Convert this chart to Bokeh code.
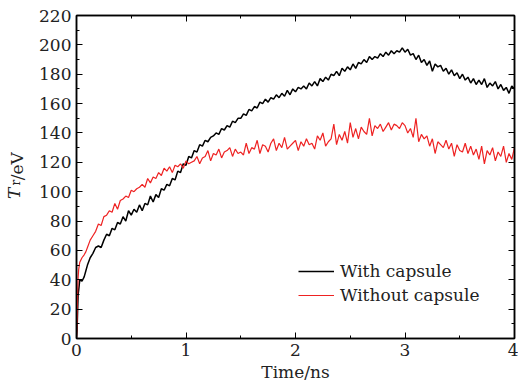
from bokeh.plotting import figure
from bokeh.models import (LinearAxis, SingleIntervalTicker, FixedTicker, Range1d,
                          CustomJSTickFormatter)
from bokeh.embed import file_html
from bokeh.resources import INLINE

# ---- data ----
t_early = [0.0, 0.005, 0.01, 0.015, 0.02, 0.03, 0.05, 0.07, 0.085]
with_early = [0, 5, 18, 30, 33, 40, 39, 42, 46]
without_early = [0, 12, 30, 42, 47, 52, 55, 57, 59]

# main part sampled every 0.025 ns from 0.1 to 4.0
with_main = [
    50, 55, 58, 62, 63, 62, 67, 71, 70, 75, 74, 79, 78, 83, 80, 87, 84, 88, 86, 91,
    87, 92, 91, 97, 93, 98, 96, 102, 101, 105, 104, 109, 108, 114, 113, 119, 118, 124, 123, 128,
    127, 132, 131, 135, 134, 137, 138, 140, 139, 143, 142, 145, 144, 148, 147, 150, 150, 153, 152, 156,
    155, 158, 157, 161, 160, 163, 161, 164, 163, 166, 164, 167, 165, 169, 166, 170, 168, 171, 170, 172,
    170, 174, 172, 175, 172, 177, 175, 178, 176, 180, 179, 182, 179, 184, 182, 185, 183, 187, 184, 188,
    187, 190, 188, 192, 190, 192, 191, 194, 192, 195, 193, 196, 194, 196, 195, 198, 195, 197, 193, 194,
    190, 193, 188, 190, 186, 189, 182, 187, 185, 186, 182, 184, 180, 183, 179, 181, 177, 180, 176, 178,
    174, 177, 173, 176, 173, 177, 171, 174, 172, 175, 170, 173, 169, 171, 167, 172, 170,
]
without_main = [
    62, 67, 70, 73, 78, 77, 83, 84, 87, 86, 92, 88, 94, 95, 97, 96, 101, 100, 102, 103,
    105, 103, 109, 106, 110, 109, 113, 111, 116, 114, 117, 113, 118, 117, 119, 116, 121, 119, 120, 121,
    124, 119, 123, 124, 128, 121, 126, 125, 129, 123, 127, 128, 130, 124, 129, 126, 127, 125, 133, 126,
    130, 129, 135, 126, 132, 131, 127, 133, 136, 128, 133, 130, 137, 129, 131, 133, 135, 128, 134, 131,
    136, 132, 133, 129, 138, 135, 140, 131, 134, 136, 146, 132, 139, 135, 141, 133, 147, 137, 143, 136,
    144, 141, 139, 150, 138, 145, 143, 146, 141, 144, 147, 142, 146, 145, 143, 147, 145, 140, 143, 137,
    150, 134, 139, 136, 138, 131, 136, 126, 134, 132, 130, 135, 129, 133, 124, 132, 128, 127, 133, 126,
    131, 125, 129, 122, 131, 119, 128, 125, 130, 121, 127, 124, 131, 120, 126, 122, 130,
]

t_main = [round(0.1 + 0.025 * i, 3) for i in range(len(with_main))]
t_all = t_early + t_main
with_capsule = with_early + with_main
without_capsule = without_early + without_main

x_ticks_interval = 1
y_ticks_interval = 20

FONT = "DejaVu Serif"
FS = "17px"
TXT = "#222222"
NB = "\u00a0"

p = figure(width=518, height=384, output_backend="svg", toolbar_location=None,
           x_range=Range1d(0, 4), y_range=Range1d(0, 220),
           x_axis_type=None, y_axis_type=None,
           min_border_left=76, min_border_right=4, min_border_top=15, min_border_bottom=46)
p.background_fill_color = "white"
p.border_fill_color = "white"
p.outline_line_color = "black"
p.outline_line_width = 1.5
p.xgrid.visible = False
p.ygrid.visible = False


def make_axis(ticker, labels=True, label_text=None, label_standoff=3):
    ax = LinearAxis(ticker=ticker)
    ax.axis_line_color = "black"
    ax.axis_line_width = 1.5
    ax.major_tick_in = 6
    ax.major_tick_out = 0
    ax.minor_tick_in = 3
    ax.minor_tick_out = 0
    ax.major_tick_line_color = "black"
    ax.minor_tick_line_color = "black"
    ax.major_tick_line_width = 1
    ax.minor_tick_line_width = 1
    if labels:
        ax.major_label_text_font = FONT
        ax.major_label_text_font_size = FS
        ax.major_label_text_color = TXT
        ax.major_label_standoff = 5
    else:
        ax.formatter = CustomJSTickFormatter(code="return ''")
        ax.major_label_standoff = 0
    if label_text:
        ax.axis_label = label_text
        ax.axis_label_text_font = FONT
        ax.axis_label_text_font_size = FS
        ax.axis_label_text_font_style = "normal"
        ax.axis_label_text_color = TXT
        ax.axis_label_standoff = label_standoff
    return ax


def label_axis(text, standoff, size=FS, style="normal"):
    # an axis with no ticks or line, used only to place one piece of the y-axis title
    ax = LinearAxis(ticker=FixedTicker(ticks=[], minor_ticks=[]),
                    formatter=CustomJSTickFormatter(code="return ''"))
    ax.axis_line_color = None
    ax.major_tick_line_color = None
    ax.minor_tick_line_color = None
    ax.major_tick_in = 0
    ax.major_tick_out = 0
    ax.minor_tick_in = 0
    ax.minor_tick_out = 0
    ax.major_label_standoff = 0
    ax.axis_label = text
    ax.axis_label_text_font = FONT
    ax.axis_label_text_font_size = size
    ax.axis_label_text_font_style = style
    ax.axis_label_text_color = TXT
    ax.axis_label_standoff = standoff
    return ax


xt = SingleIntervalTicker(interval=x_ticks_interval, num_minor_ticks=2)
yt = SingleIntervalTicker(interval=y_ticks_interval, num_minor_ticks=2)
p.add_layout(make_axis(xt, True, "Time/ns", 3), "below")
p.add_layout(make_axis(yt, True), "left")
p.add_layout(make_axis(xt, False), "above")
p.add_layout(make_axis(yt, False), "right")

# y-axis title "T_r/eV" in three pieces (italic T, subscript r, /eV);
# non-breaking spaces shift each piece along the axis
p.add_layout(label_axis(NB * 4 + "/eV", 10), "left")
p.add_layout(label_axis("T" + NB * 6, -20, style="italic"), "left")
p.add_layout(label_axis("r" + NB * 3, -22, size="12px"), "left")

p.line(t_all, with_capsule, line_color="black", line_width=1.5, legend_label="With capsule")
p.line(t_all, without_capsule, line_color="#ee2222", line_width=1.2, legend_label="Without capsule")

lg = p.legend[0]
lg.location = (222, 32)
lg.border_line_color = None
lg.background_fill_alpha = 0
lg.padding = 0
lg.margin = 0
lg.spacing = 2
lg.glyph_width = 36
lg.glyph_height = 22
lg.label_height = 22
lg.label_standoff = 6
lg.label_text_font = FONT
lg.label_text_font_size = FS
lg.label_text_color = TXT

open("out.html", "w").write(file_html(p, INLINE))
